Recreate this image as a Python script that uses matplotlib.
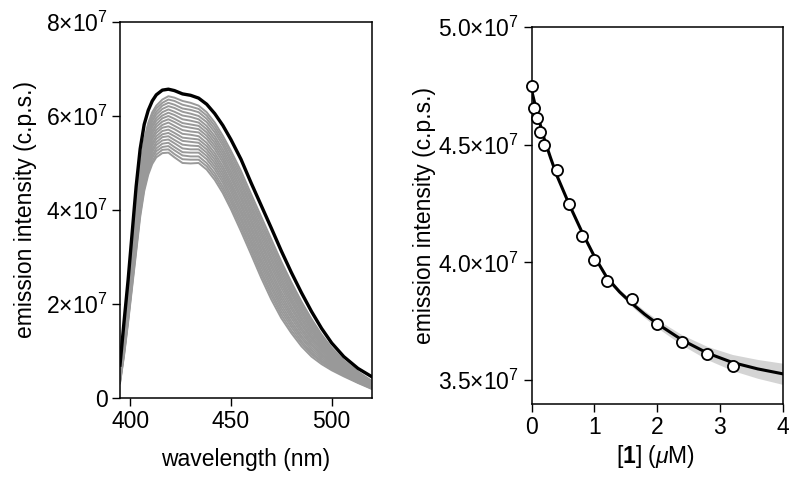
import numpy as np
import matplotlib
matplotlib.use('Agg')
import matplotlib.pyplot as plt

plt.rcParams['font.family'] = ['Liberation Sans', 'DejaVu Sans']
plt.rcParams['mathtext.fontset'] = 'custom'
plt.rcParams['mathtext.rm'] = 'Liberation Sans'
plt.rcParams['mathtext.it'] = 'Liberation Sans:italic'
plt.rcParams['mathtext.bf'] = 'Liberation Sans:bold'

# ---- left panel: emission spectra (values in 1e7 c.p.s.)
wavelength = [395, 397, 399, 401, 403, 405, 407, 409, 411, 413, 416, 419, 422, 426, 430,
              434, 438, 442, 446, 450, 455, 460, 465, 470, 475, 480, 485, 490, 495, 500,
              506, 513, 520]

spec_first = [0.70, 1.62, 2.50, 3.50, 4.50, 5.30, 5.82, 6.12, 6.32, 6.45, 6.55, 6.57, 6.54,
              6.47, 6.44, 6.38, 6.25, 6.05, 5.80, 5.50, 5.08, 4.58, 4.10, 3.62, 3.13, 2.67,
              2.24, 1.84, 1.48, 1.17, 0.88, 0.63, 0.45]

# one row per wavelength, one column per titration spectrum
spec_titration = [
    [0.60, 0.58, 0.57, 0.55, 0.53, 0.51, 0.50, 0.48, 0.46, 0.45, 0.43, 0.41, 0.40, 0.38, 0.36, 0.34, 0.33, 0.31],
    [1.40, 1.37, 1.34, 1.31, 1.28, 1.25, 1.22, 1.19, 1.16, 1.14, 1.11, 1.08, 1.05, 1.02, 0.99, 0.96, 0.93, 0.90],
    [2.25, 2.21, 2.17, 2.14, 2.10, 2.06, 2.02, 1.98, 1.94, 1.91, 1.87, 1.83, 1.79, 1.75, 1.71, 1.68, 1.64, 1.60],
    [3.20, 3.15, 3.10, 3.05, 3.00, 2.95, 2.90, 2.85, 2.80, 2.75, 2.70, 2.65, 2.60, 2.55, 2.50, 2.45, 2.40, 2.35],
    [4.15, 4.09, 4.03, 3.96, 3.90, 3.84, 3.78, 3.72, 3.66, 3.59, 3.53, 3.47, 3.41, 3.35, 3.29, 3.22, 3.16, 3.10],
    [4.95, 4.89, 4.82, 4.76, 4.69, 4.63, 4.56, 4.50, 4.43, 4.37, 4.30, 4.24, 4.17, 4.11, 4.04, 3.98, 3.91, 3.85],
    [5.50, 5.44, 5.37, 5.31, 5.24, 5.18, 5.11, 5.05, 4.98, 4.92, 4.85, 4.79, 4.72, 4.66, 4.59, 4.53, 4.46, 4.40],
    [5.85, 5.79, 5.72, 5.66, 5.59, 5.53, 5.46, 5.40, 5.33, 5.27, 5.20, 5.14, 5.07, 5.01, 4.94, 4.88, 4.81, 4.75],
    [6.08, 6.02, 5.95, 5.89, 5.82, 5.76, 5.69, 5.63, 5.56, 5.50, 5.43, 5.37, 5.30, 5.24, 5.17, 5.11, 5.04, 4.98],
    [6.22, 6.16, 6.09, 6.03, 5.96, 5.90, 5.83, 5.77, 5.70, 5.64, 5.57, 5.51, 5.44, 5.38, 5.31, 5.25, 5.18, 5.12],
    [6.35, 6.28, 6.22, 6.15, 6.08, 6.01, 5.95, 5.88, 5.81, 5.75, 5.68, 5.61, 5.55, 5.48, 5.41, 5.34, 5.28, 5.21],
    [6.42, 6.35, 6.28, 6.21, 6.14, 6.07, 6.00, 5.93, 5.86, 5.78, 5.71, 5.64, 5.57, 5.50, 5.43, 5.36, 5.29, 5.22],
    [6.39, 6.32, 6.24, 6.17, 6.09, 6.02, 5.94, 5.87, 5.79, 5.72, 5.64, 5.57, 5.49, 5.42, 5.34, 5.27, 5.19, 5.12],
    [6.32, 6.24, 6.16, 6.09, 6.01, 5.93, 5.85, 5.78, 5.70, 5.62, 5.54, 5.47, 5.39, 5.31, 5.23, 5.16, 5.08, 5.00],
    [6.28, 6.20, 6.13, 6.05, 5.98, 5.90, 5.82, 5.75, 5.67, 5.60, 5.52, 5.45, 5.37, 5.29, 5.22, 5.14, 5.07, 4.99],
    [6.22, 6.15, 6.08, 6.00, 5.93, 5.86, 5.79, 5.72, 5.65, 5.57, 5.50, 5.43, 5.36, 5.29, 5.22, 5.14, 5.07, 5.00],
    [6.08, 6.01, 5.94, 5.87, 5.79, 5.72, 5.65, 5.58, 5.51, 5.43, 5.36, 5.29, 5.22, 5.15, 5.08, 5.00, 4.93, 4.86],
    [5.86, 5.79, 5.72, 5.65, 5.57, 5.50, 5.43, 5.36, 5.29, 5.21, 5.14, 5.07, 5.00, 4.93, 4.86, 4.78, 4.71, 4.64],
    [5.58, 5.51, 5.44, 5.37, 5.29, 5.22, 5.15, 5.08, 5.01, 4.93, 4.86, 4.79, 4.72, 4.65, 4.58, 4.50, 4.43, 4.36],
    [5.26, 5.19, 5.11, 5.04, 4.97, 4.90, 4.82, 4.75, 4.68, 4.60, 4.53, 4.46, 4.39, 4.31, 4.24, 4.17, 4.09, 4.02],
    [4.83, 4.75, 4.68, 4.60, 4.53, 4.45, 4.38, 4.30, 4.23, 4.15, 4.08, 4.00, 3.93, 3.85, 3.78, 3.70, 3.63, 3.55],
    [4.34, 4.26, 4.19, 4.11, 4.04, 3.96, 3.89, 3.81, 3.74, 3.66, 3.59, 3.51, 3.44, 3.36, 3.29, 3.21, 3.14, 3.06],
    [3.86, 3.78, 3.71, 3.63, 3.55, 3.48, 3.40, 3.32, 3.25, 3.17, 3.10, 3.02, 2.94, 2.87, 2.79, 2.71, 2.64, 2.56],
    [3.38, 3.30, 3.23, 3.15, 3.08, 3.00, 2.93, 2.85, 2.78, 2.70, 2.63, 2.55, 2.48, 2.40, 2.33, 2.25, 2.18, 2.10],
    [2.90, 2.83, 2.76, 2.69, 2.62, 2.55, 2.48, 2.41, 2.34, 2.26, 2.19, 2.12, 2.05, 1.98, 1.91, 1.84, 1.77, 1.70],
    [2.46, 2.40, 2.33, 2.27, 2.21, 2.14, 2.08, 2.02, 1.95, 1.89, 1.82, 1.76, 1.70, 1.63, 1.57, 1.51, 1.44, 1.38],
    [2.05, 1.99, 1.94, 1.88, 1.83, 1.77, 1.71, 1.66, 1.60, 1.55, 1.49, 1.44, 1.38, 1.32, 1.27, 1.21, 1.16, 1.10],
    [1.68, 1.63, 1.59, 1.54, 1.49, 1.45, 1.40, 1.35, 1.30, 1.26, 1.21, 1.16, 1.12, 1.07, 1.02, 0.97, 0.93, 0.88],
    [1.35, 1.31, 1.28, 1.24, 1.20, 1.16, 1.13, 1.09, 1.05, 1.02, 0.98, 0.94, 0.91, 0.87, 0.83, 0.79, 0.76, 0.72],
    [1.07, 1.04, 1.01, 0.99, 0.96, 0.93, 0.90, 0.87, 0.84, 0.82, 0.79, 0.76, 0.73, 0.70, 0.67, 0.65, 0.62, 0.59],
    [0.80, 0.78, 0.76, 0.74, 0.72, 0.70, 0.68, 0.66, 0.64, 0.62, 0.60, 0.58, 0.56, 0.54, 0.52, 0.50, 0.48, 0.46],
    [0.56, 0.55, 0.53, 0.52, 0.50, 0.49, 0.48, 0.46, 0.45, 0.43, 0.42, 0.40, 0.39, 0.38, 0.36, 0.35, 0.33, 0.32],
    [0.36, 0.35, 0.34, 0.33, 0.32, 0.31, 0.30, 0.29, 0.28, 0.27, 0.26, 0.25, 0.24, 0.23, 0.22, 0.21, 0.20, 0.19],
]

left_yticks = [0, 2, 4, 6, 8]
left_yticklabels = ['0', r'$2{\times}10^7$', r'$4{\times}10^7$', r'$6{\times}10^7$', r'$8{\times}10^7$']
left_xticks = [400, 450, 500]

# ---- right panel: titration (values in 1e7 c.p.s.)
conc = [0, 0.04, 0.08, 0.14, 0.2, 0.4, 0.6, 0.8, 1.0, 1.2, 1.6, 2.0, 2.4, 2.8, 3.2]
intensity = [4.749, 4.657, 4.615, 4.553, 4.499, 4.391, 4.248, 4.114, 4.010, 3.923,
             3.843, 3.737, 3.662, 3.611, 3.562]

fit_x = [0, 0.1, 0.2, 0.3, 0.4, 0.6, 0.8, 1.0, 1.2, 1.4, 1.6, 1.8, 2.0, 2.4, 2.8, 3.2, 3.6, 4.0]
fit_y = [4.73, 4.62, 4.525, 4.445, 4.37, 4.245, 4.13, 4.025, 3.935, 3.875, 3.825, 3.78,
         3.74, 3.67, 3.615, 3.575, 3.548, 3.527]
band_hi = [4.742, 4.63, 4.533, 4.452, 4.377, 4.252, 4.138, 4.034, 3.945, 3.886, 3.838,
           3.795, 3.757, 3.692, 3.643, 3.609, 3.588, 3.572]
band_lo = [4.718, 4.61, 4.517, 4.438, 4.363, 4.238, 4.122, 4.016, 3.925, 3.864, 3.812,
           3.765, 3.723, 3.648, 3.587, 3.541, 3.508, 3.482]

right_yticks = [3.5, 4.0, 4.5, 5.0]
right_yticklabels = [r'$3.5{\times}10^7$', r'$4.0{\times}10^7$', r'$4.5{\times}10^7$', r'$5.0{\times}10^7$']
right_xticks = [0, 1, 2, 3, 4]

fig = plt.figure(figsize=(8, 4.82), dpi=100)
ax1 = fig.add_axes([0.15, 0.1743, 0.315, 0.7801])
ax2 = fig.add_axes([0.6646, 0.1624, 0.3138, 0.7816])

fs = 16.5

# left
ax1.plot(wavelength, spec_titration, color='#999999', lw=1.4, zorder=2)
ax1.plot(wavelength, spec_first, color='black', lw=2.4, zorder=3)
ax1.set_xlim(395, 520)
ax1.set_ylim(0, 8)
ax1.set_xticks(left_xticks)
ax1.set_yticks(left_yticks)
ax1.set_yticklabels(left_yticklabels)
ax1.set_xlabel('wavelength (nm)', fontsize=fs)
ax1.set_ylabel('emission intensity (c.p.s.)', fontsize=fs)
ax1.xaxis.set_label_coords(0.5, -0.133)
ax1.yaxis.set_label_coords(-0.33, 0.5)

# right
ax2.fill_between(fit_x, band_lo, band_hi, color='#d4d4d4', lw=0, zorder=1)
ax2.plot(fit_x, fit_y, color='black', lw=2.2, zorder=2)
ax2.plot(conc, intensity, 'o', ms=8, mfc='white', mec='black', mew=1.3, zorder=3,
         clip_on=False)
ax2.set_xlim(0, 4)
ax2.set_ylim(3.4, 5.0)
ax2.set_xticks(right_xticks)
ax2.set_yticks(right_yticks)
ax2.set_yticklabels(right_yticklabels)
ax2.set_xlabel(r'[$\mathbf{1}$] ($\mu$M)', fontsize=fs)
ax2.set_ylabel('emission intensity (c.p.s.)', fontsize=fs)
ax2.xaxis.set_label_coords(0.495, -0.104)
ax2.yaxis.set_label_coords(-0.381, 0.5)

for ax in (ax1, ax2):
    ax.tick_params(direction='out', length=6, width=1, labelsize=fs, pad=3)
    for s in ax.spines.values():
        s.set_linewidth(1.1)

fig.savefig('out.png', dpi=100)
